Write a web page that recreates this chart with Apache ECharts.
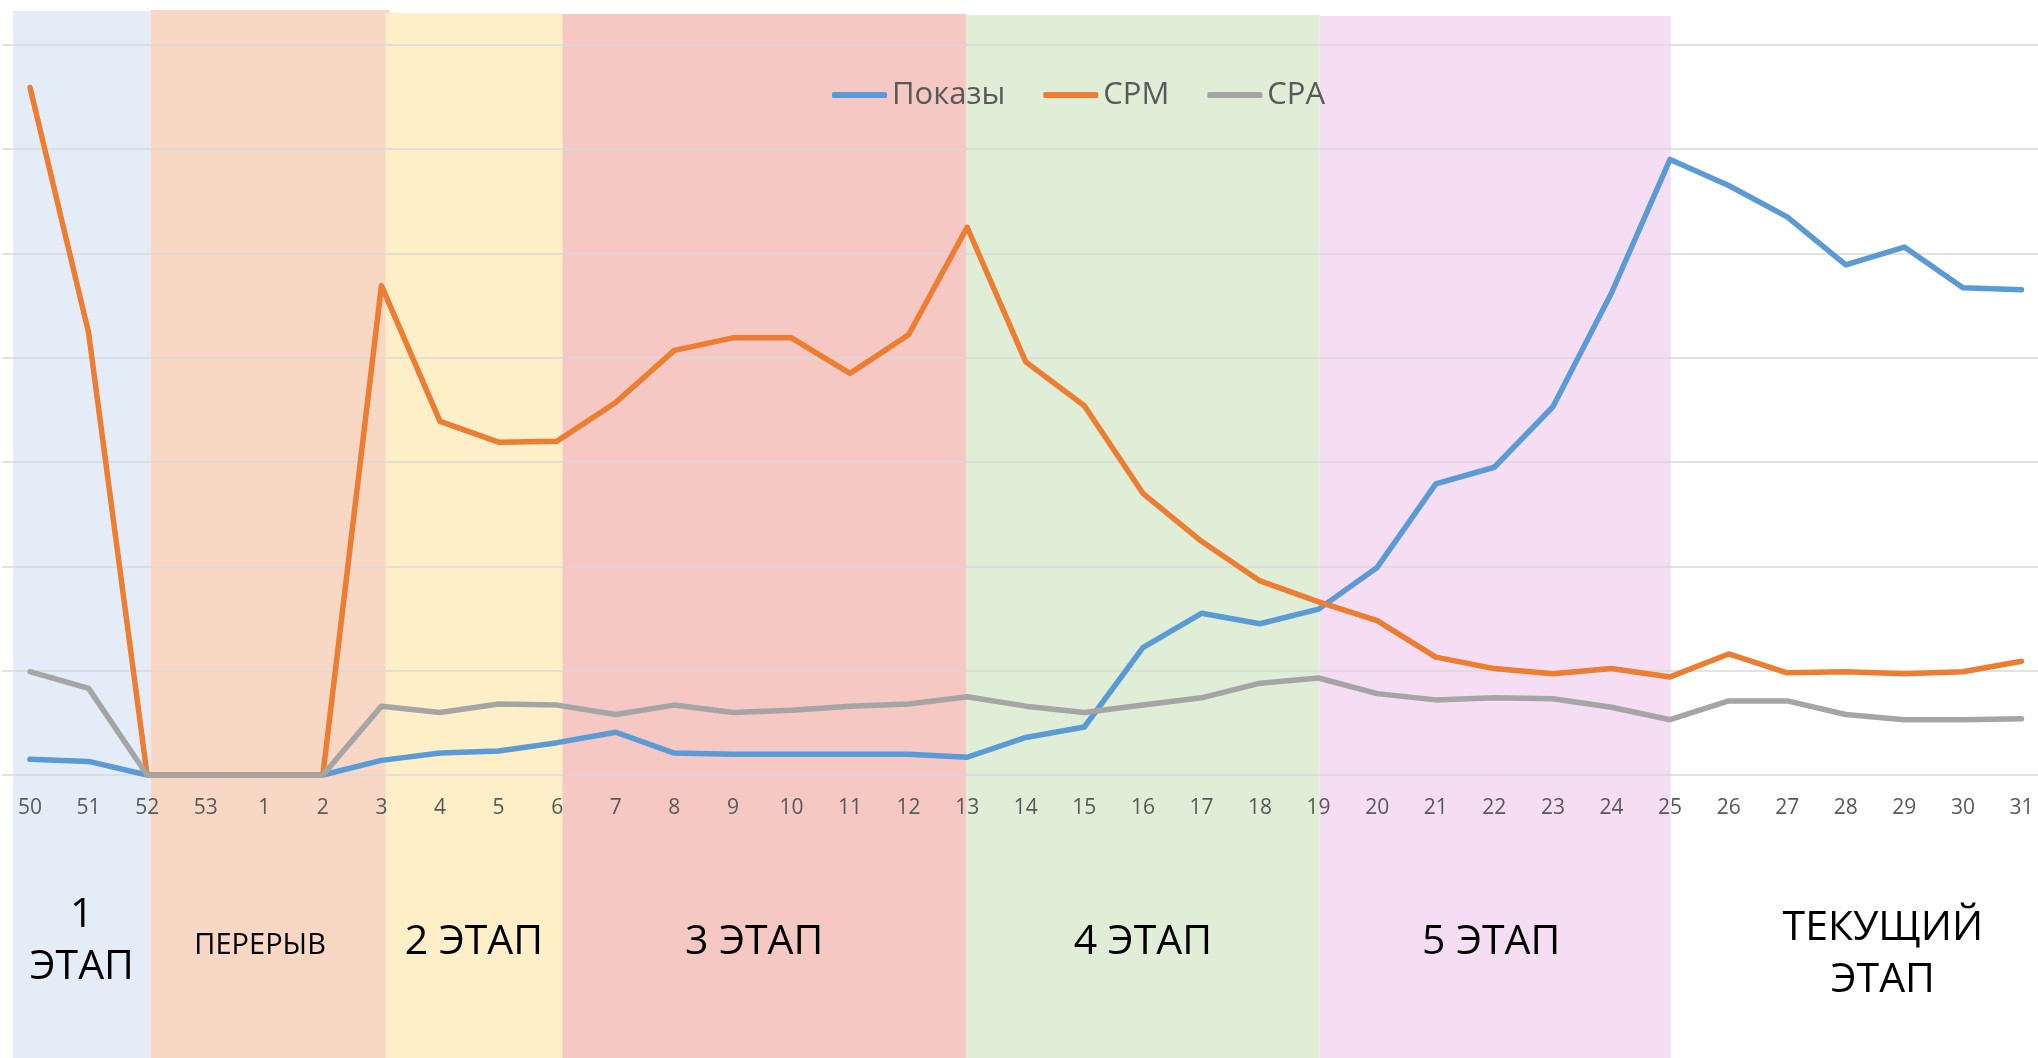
<!DOCTYPE html>
<html>
<head>
<meta charset="utf-8">
<script src="https://cdn.jsdelivr.net/npm/echarts@6/dist/echarts.min.js"></script>
<style>
  html, body { margin: 0; padding: 0; background: #fff; }
  #chart { width: 2038px; height: 1058px; }
</style>
</head>
<body>
<div id="chart"></div>
<script>
// недели
const weeks = ['50', '51', '52', '53', '1', '2', '3', '4', '5', '6', '7', '8', '9', '10', '11', '12', '13', '14', '15', '16',
  '17', '18', '19', '20', '21', '22', '23', '24', '25', '26', '27', '28', '29', '30', '31']

// серии (условные единицы, 100 = одна линия сетки)
const shows = [15, 13, 0, 0, 0, 0, 14, 21, 23, 31, 41, 21, 20, 20, 20, 20, 17, 36, 46, 122,
  155, 145, 159, 199, 279, 295, 353, 462, 590, 565, 535, 489, 506, 467, 465]
const cpm = [659, 424, 0, 0, 0, 0, 469, 339, 319, 320, 357, 407, 419, 419, 385, 422, 525, 396, 354, 270,
  224, 186, 166, 148, 113, 102, 97, 102, 94, 116, 98, 99, 97, 99, 109]
const cpa = [99, 83, 0, 0, 0, 0, 66, 60, 68, 67, 58, 67, 60, 62, 66, 68, 75, 66, 60, 67,
  74, 88, 93, 78, 72, 74, 73, 65, 53, 71, 71, 58, 53, 53, 54]

// этапы (границы в индексах недель)
const stageNames = ['1\nЭТАП', 'ПЕРЕРЫВ', '2 ЭТАП', '3 ЭТАП', '4 ЭТАП', '5 ЭТАП', 'ТЕКУЩИЙ\nЭТАП']
const stageFrom = [-0.29, 2.06, 6.07, 9.09, 15.98, 22.02, 28.01]
const stageTo = [2.06, 6.14, 9.09, 15.98, 22.02, 28.01, 34.3]

// оформление
const stageColors = ['#E4ECF7', '#F8D8C5', '#FEEFC9', '#F5C8C4', '#E0EDD7', '#F5DDF3', 'rgba(0,0,0,0)']
const stageTops = [11, 10, 13, 14, 15, 16, 16]
const stageFont = [41, 29, 41, 41, 41, 41, 41]
const stageShift = [0, -10, 0, -10, 0, -4, 28]
const stageLabelY = [941, 946, 942, 942, 942, 942, 954]

const W = 2038, H = 1058
const plotLeft = 30, plotRight = 16.5, fullLeft = 2
const gridTop = 44.7, gridBottom = H - 775
const step = (W - plotLeft - plotRight) / (weeks.length - 1)

const chart = echarts.init(document.getElementById('chart'))

const stageData = stageNames.map((n, i) => [stageFrom[i], stageTo[i], i])

const lineStyle = { width: 5.5, cap: 'round', join: 'round' }

const option = {
  animation: false,
  backgroundColor: '#fff',
  textStyle: { fontFamily: 'Open Sans' },
  legend: {
    data: ['Показы', 'CPM', 'CPA'],
    left: 827,
    top: 72,
    itemGap: 38,
    itemWidth: 55,
    itemHeight: 6,
    icon: 'roundRect',
    textStyle: { fontSize: 31, color: '#595959', fontFamily: 'Open Sans', lineHeight: 36 },
  },
  grid: [
    { left: fullLeft, right: 0, top: gridTop, bottom: gridBottom },
    { left: plotLeft, right: plotRight, top: gridTop, bottom: gridBottom },
  ],
  xAxis: [
    {
      type: 'value',
      gridIndex: 0,
      min: -(plotLeft - fullLeft) / step,
      max: weeks.length - 1 + plotRight / step,
      show: false,
    },
    {
      type: 'category',
      gridIndex: 1,
      data: weeks,
      boundaryGap: false,
      axisLine: { show: false },
      axisTick: { show: false },
      splitLine: { show: false },
      axisLabel: { fontSize: 21, color: '#595959', margin: 23, fontFamily: 'Open Sans', interval: 0 },
    },
  ],
  yAxis: [
    {
      type: 'value',
      gridIndex: 0,
      min: 0,
      max: 700,
      interval: 100,
      axisLine: { show: false },
      axisTick: { show: false },
      axisLabel: { show: false },
      splitLine: { lineStyle: { color: '#D9D9D9', width: 1.5 } },
    },
    {
      type: 'value',
      gridIndex: 1,
      min: 0,
      max: 700,
      interval: 100,
      show: false,
      splitLine: { show: false },
    },
  ],
  series: [
    {
      type: 'custom',
      xAxisIndex: 0,
      yAxisIndex: 0,
      z: -10,
      silent: true,
      data: stageData,
      renderItem: function (params, api) {
        const i = api.value(2)
        const x0 = api.coord([api.value(0), 0])[0]
        const x1 = api.coord([api.value(1), 0])[0]
        return {
          type: 'group',
          children: [
            {
              type: 'rect',
              shape: { x: x0, y: stageTops[i], width: x1 - x0, height: H - stageTops[i] },
              style: { fill: stageColors[i] },
            },
            {
              type: 'text',
              x: (x0 + x1) / 2 + stageShift[i],
              y: stageLabelY[i],
              style: {
                text: stageNames[i],
                fontSize: stageFont[i],
                fontFamily: 'Open Sans',
                fill: '#000',
                align: 'center',
                verticalAlign: 'middle',
                lineHeight: 52,
              },
            },
          ],
        }
      },
    },
    {
      name: 'Показы',
      type: 'line',
      xAxisIndex: 1,
      yAxisIndex: 1,
      data: shows,
      symbol: 'none',
      color: '#5B9BD5',
      lineStyle: lineStyle,
    },
    {
      name: 'CPM',
      type: 'line',
      xAxisIndex: 1,
      yAxisIndex: 1,
      data: cpm,
      symbol: 'none',
      color: '#ED7D31',
      lineStyle: lineStyle,
    },
    {
      name: 'CPA',
      type: 'line',
      xAxisIndex: 1,
      yAxisIndex: 1,
      data: cpa,
      symbol: 'none',
      color: '#A5A5A5',
      lineStyle: lineStyle,
    },
  ],
}

chart.setOption(option)
</script>
</body>
</html>
